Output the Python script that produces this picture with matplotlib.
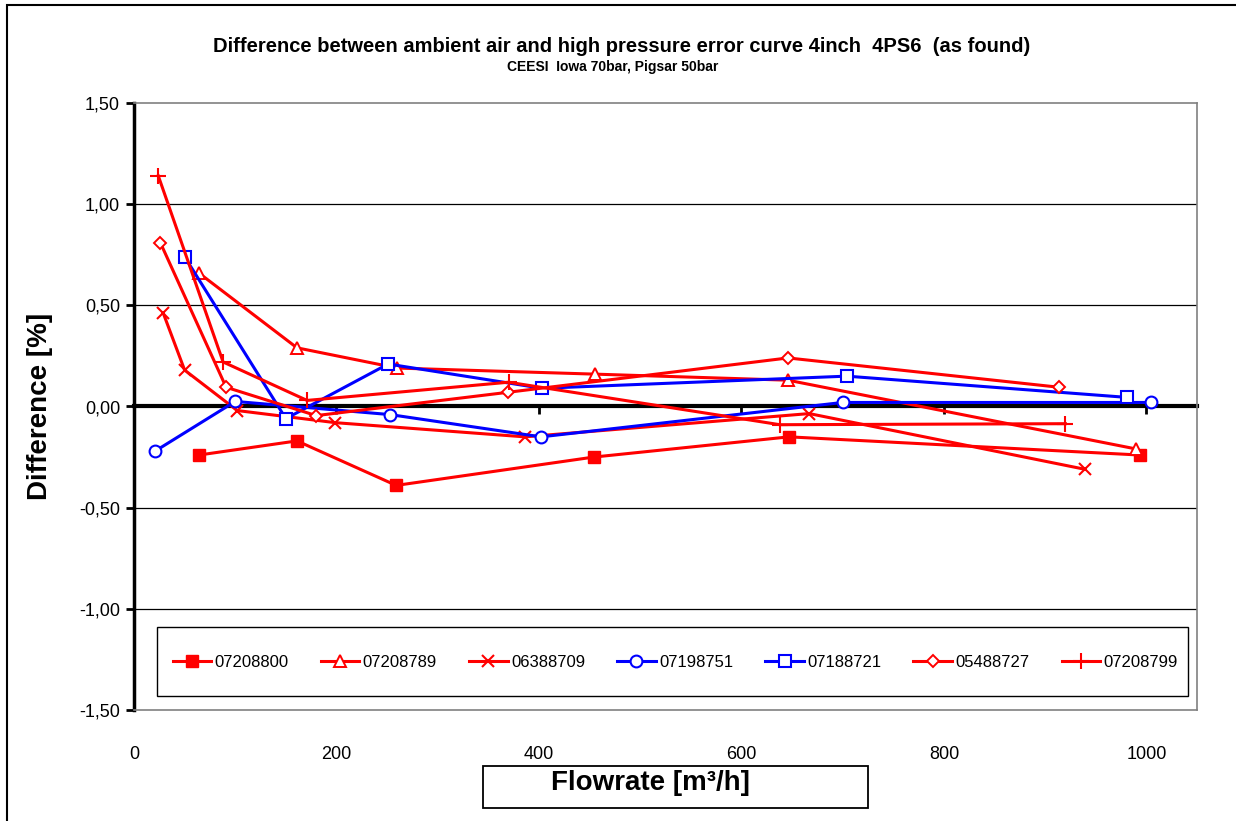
import matplotlib
matplotlib.use('Agg')
import matplotlib.pyplot as plt
from matplotlib.patches import Rectangle
from matplotlib.ticker import FuncFormatter

plt.rcParams['font.family'] = ['Liberation Sans', 'DejaVu Sans']

# Data (flowrate in m3/h, difference in %)
labels = ['07208800', '07208789', '06388709', '07198751', '07188721', '05488727', '07208799']

x_07208800 = [64, 161, 259, 454, 647, 994]
y_07208800 = [-0.24, -0.17, -0.39, -0.25, -0.15, -0.24]

x_07208789 = [64, 161, 260, 455, 646, 990]
y_07208789 = [0.66, 0.29, 0.19, 0.16, 0.13, -0.21]

x_06388709 = [29, 50, 102, 199, 386, 667, 939]
y_06388709 = [0.46, 0.18, -0.02, -0.08, -0.15, -0.035, -0.31]

x_07198751 = [21, 100, 253, 402, 700, 1005]
y_07198751 = [-0.22, 0.025, -0.04, -0.15, 0.02, 0.02]

x_07188721 = [50, 150, 251, 403, 704, 981]
y_07188721 = [0.74, -0.06, 0.21, 0.09, 0.15, 0.045]

x_05488727 = [26, 91, 180, 369, 646, 914]
y_05488727 = [0.81, 0.095, -0.045, 0.07, 0.24, 0.095]

x_07208799 = [24, 88, 171, 370, 638, 920]
y_07208799 = [1.14, 0.22, 0.03, 0.12, -0.09, -0.085]

RED = '#ff0000'
BLUE = '#0000ff'

fig = plt.figure(figsize=(12.36, 8.21), dpi=100)
ax = fig.add_axes([134 / 1236, 1 - 710 / 821, 1063 / 1236, 607 / 821])

lw = 2.2
ax.plot(x_07208800, y_07208800, color=RED, lw=lw, marker='s', ms=8.5, mfc=RED, mec=RED, label=labels[0])
ax.plot(x_07208789, y_07208789, color=RED, lw=lw, marker='^', ms=8.5, mfc='white', mec=RED, mew=1.4, label=labels[1])
ax.plot(x_06388709, y_06388709, color=RED, lw=lw, marker='x', ms=9, mec=RED, mew=1.5, label=labels[2])
ax.plot(x_07198751, y_07198751, color=BLUE, lw=lw, marker='o', ms=8.5, mfc='white', mec=BLUE, mew=1.5, label=labels[3])
ax.plot(x_07188721, y_07188721, color=BLUE, lw=lw, marker='s', ms=8.5, mfc='white', mec=BLUE, mew=1.5, label=labels[4])
ax.plot(x_05488727, y_05488727, color=RED, lw=lw, marker='D', ms=6.5, mfc='white', mec=RED, mew=1.4, label=labels[5])
ax.plot(x_07208799, y_07208799, color=RED, lw=lw, marker='+', ms=11, mec=RED, mew=1.5, label=labels[6])

ax.set_xlim(0, 1050)
ax.set_ylim(-1.5, 1.5)
ax.set_xticks([0, 200, 400, 600, 800, 1000])
ax.set_yticks([-1.5, -1.0, -0.5, 0.0, 0.5, 1.0, 1.5])
ax.yaxis.set_major_formatter(FuncFormatter(lambda v, p: f'{v:.2f}'.replace('.', ',')))

ax.tick_params(axis='x', length=0, pad=26, labelsize=13)
ax.tick_params(axis='y', direction='out', length=6, width=2, pad=4, labelsize=13)

# horizontal gridlines, hidden where they meet the plot frame
ax.set_axisbelow(True)
ax.grid(axis='y', color='black', lw=0.9)
ax.grid(axis='x', visible=False)
glines = ax.get_ygridlines()
glines[0].set_visible(False)
glines[-1].set_visible(False)

for s in ['top', 'right', 'bottom']:
    ax.spines[s].set_color('#808080')
    ax.spines[s].set_linewidth(1.2)
ax.spines['left'].set_color('black')
ax.spines['left'].set_linewidth(2.5)

# x axis crossing at zero, ticks pointing down
zero_ax = ax.secondary_xaxis(0, transform=ax.transData)
zero_ax.set_xticks([0, 200, 400, 600, 800, 1000])
zero_ax.tick_params(axis='x', direction='out', length=6, width=2, labelbottom=False)
zero_ax.spines['bottom'].set_linewidth(3)
zero_ax.spines['bottom'].set_color('black')

ax.set_ylabel('Difference [%]', fontsize=20, fontweight='bold', va='center')
ax.yaxis.set_label_coords(-0.0884, 0.5)
ax.set_xlabel('Flowrate [m³/h]', fontsize=20, fontweight='bold', va='center')
ax.xaxis.set_label_coords(0.486, -0.120)

fig.add_artist(Rectangle((483 / 1236, 1 - 808 / 821), 385 / 1236, 42 / 821,
                         transform=fig.transFigure, fill=False, ec='black', lw=1.3))

# legend box drawn separately, legend entries spread inside it
ax.add_patch(Rectangle((0.0216, 0.0231), 0.97, 0.1136, transform=ax.transAxes,
                       fc='white', ec='black', lw=1.0, zorder=4))
leg = ax.legend(loc='center', ncol=7, mode='expand',
                bbox_to_anchor=(0.0367, 0.059, 0.945, 0.04),
                fontsize=12, frameon=False, borderpad=0,
                handlelength=2.3, handletextpad=0.2,
                columnspacing=1.5, numpoints=1, borderaxespad=0)
leg.set_zorder(5)

fig.text(0.503, 1 - 46 / 821,
         'Difference between ambient air and high pressure error curve 4inch  4PS6  (as found)',
         ha='center', va='center', fontsize=14.5, fontweight='bold')
fig.text(613 / 1236, 1 - 67 / 821, 'CEESI  Iowa 70bar, Pigsar 50bar',
         ha='center', va='center', fontsize=10, fontweight='bold')

# outer chart frame
fig.add_artist(Rectangle((7 / 1236, -0.1), 1.2, 1.1 - 5 / 821,
                         transform=fig.transFigure, fill=False, ec='black', lw=1.5))

fig.savefig('out.png', dpi=100)
